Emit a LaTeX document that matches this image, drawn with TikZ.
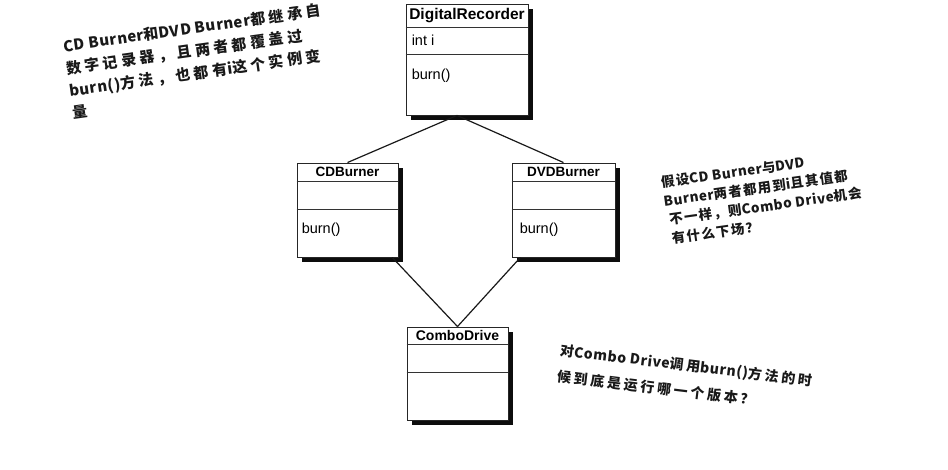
\documentclass[tikz,border=0pt]{standalone}
\usepackage{fontspec}
\setmainfont{Liberation Sans}
\newfontfamily\zhlat[LetterSpace=4]{Noto Sans CJK SC}
\newfontfamily\zhA[LetterSpace=24]{Noto Sans CJK SC}
\newfontfamily\zhB[LetterSpace=10]{Noto Sans CJK SC}
\newfontfamily\zhC[LetterSpace=20]{Noto Sans CJK SC}
\usetikzlibrary{calc,shadows}
\begin{document}
\begin{tikzpicture}[x=1pt,y=1pt,
  classbox/.style={draw=black!85, line width=0.9pt, fill=white, inner sep=0pt,
    drop shadow={shadow xshift=5pt, shadow yshift=-5pt, fill=black, opacity=0.95}},
  sepline/.style={draw=black!80, line width=0.8pt},
  header/.style={font=\bfseries\fontsize{#1}{#1}\selectfont, inner sep=0pt},
  member/.style={font=\fontsize{14.5}{15}\selectfont, inner sep=0pt, anchor=west},
  conn/.style={draw=black!90, line width=1.2pt},
  note/.style={anchor=north west, align=left, inner sep=0pt, text=black!90}]
\fill[white] (0,0) rectangle (948,470);
\useasboundingbox (0,0) rectangle (948,470);

% class boxes
\node[classbox, minimum width=122pt, minimum height=111pt] (dr) at (467,410.5) {};
\node[classbox, minimum width=101pt, minimum height=94pt] (cd) at (347.5,260) {};
\node[classbox, minimum width=103pt, minimum height=94pt] (dvd) at (563.5,260) {};
\node[classbox, minimum width=101pt, minimum height=93pt] (combo) at (457.5,96.5) {};

% separators
\draw[sepline] ($(dr.north west)+(0,-24)$) -- ($(dr.north east)+(0,-24)$);
\draw[sepline] ($(dr.north west)+(0,-51)$) -- ($(dr.north east)+(0,-51)$);
\draw[sepline] ($(cd.north west)+(0,-19)$) -- ($(cd.north east)+(0,-19)$);
\draw[sepline] ($(cd.north west)+(0,-47)$) -- ($(cd.north east)+(0,-47)$);
\draw[sepline] ($(dvd.north west)+(0,-19)$) -- ($(dvd.north east)+(0,-19)$);
\draw[sepline] ($(dvd.north west)+(0,-47)$) -- ($(dvd.north east)+(0,-47)$);
\draw[sepline] ($(combo.north west)+(0,-18)$) -- ($(combo.north east)+(0,-18)$);
\draw[sepline] ($(combo.north west)+(0,-46)$) -- ($(combo.north east)+(0,-46)$);

% texts in boxes
\node[header=15.5] (drh) at ($(dr.north)+(0,-12)$) {DigitalRecorder};
\node[member] (dra) at ($(dr.north west)+(6,-37)$) {int i};
\node[member] (drm) at ($(dr.north west)+(6,-72)$) {burn()};
\node[header=13.5] (cdh) at ($(cd.north)+(0,-9.5)$) {CDBurner};
\node[member] (cdm) at ($(cd.north west)+(5,-67)$) {burn()};
\node[header=13.5] (dvdh) at ($(dvd.north)+(0,-9.5)$) {DVDBurner};
\node[member] (dvdm) at ($(dvd.north west)+(8,-67)$) {burn()};
\node[header=14] (comboh) at ($(combo.north)+(0,-9)$) {ComboDrive};

% connectors
\coordinate (apex) at ($(dr.south)+(-10,0)$);
\draw[conn] (cd.north) -- (apex);
\draw[conn] (dvd.north) -- (apex);
\draw[conn] (combo.north) -- (cd);
\draw[conn] (combo.north) -- (dvd);

% notes
\node[note, rotate=8, font=\bfseries\fontsize{15}{22.5}\selectfont] (note1) at (62,431)
  {{\zhlat CD Burner}{\zhA 和}{\zhlat DVD Burner}{\zhA 都继承自}\\
   {\zhA 数字记录器，且两者都覆盖过}\\
   {\zhlat burn()}{\zhA 方法，也都有}{\zhlat i}{\zhA 这个实例变}\\
   {\zhA 量}};
\node[note, rotate=8, font=\bfseries\fontsize{13.5}{19}\selectfont] (note2) at (660,294)
  {{\zhB 假设}{\zhlat CD Burner}{\zhB 与}{\zhlat DVD}\\
   {\zhlat Burner}{\zhB 两者都用到}{\zhlat i}{\zhB 且其值都}\\
   \hspace{3pt}{\zhB 不一样，则}{\zhlat Combo Drive}{\zhB 机会}\\
   \hspace{3pt}{\zhB 有什么下场？}};
\node[note, rotate=-7, font=\bfseries\fontsize{14}{26}\selectfont] (note3) at (561,127)
  {{\zhC 对}{\zhlat Combo Drive}{\zhC 调用}{\zhlat burn()}{\zhC 方法的时}\\
   {\zhC 候到底是运行哪一个版本？}};
\end{tikzpicture}
\end{document}
